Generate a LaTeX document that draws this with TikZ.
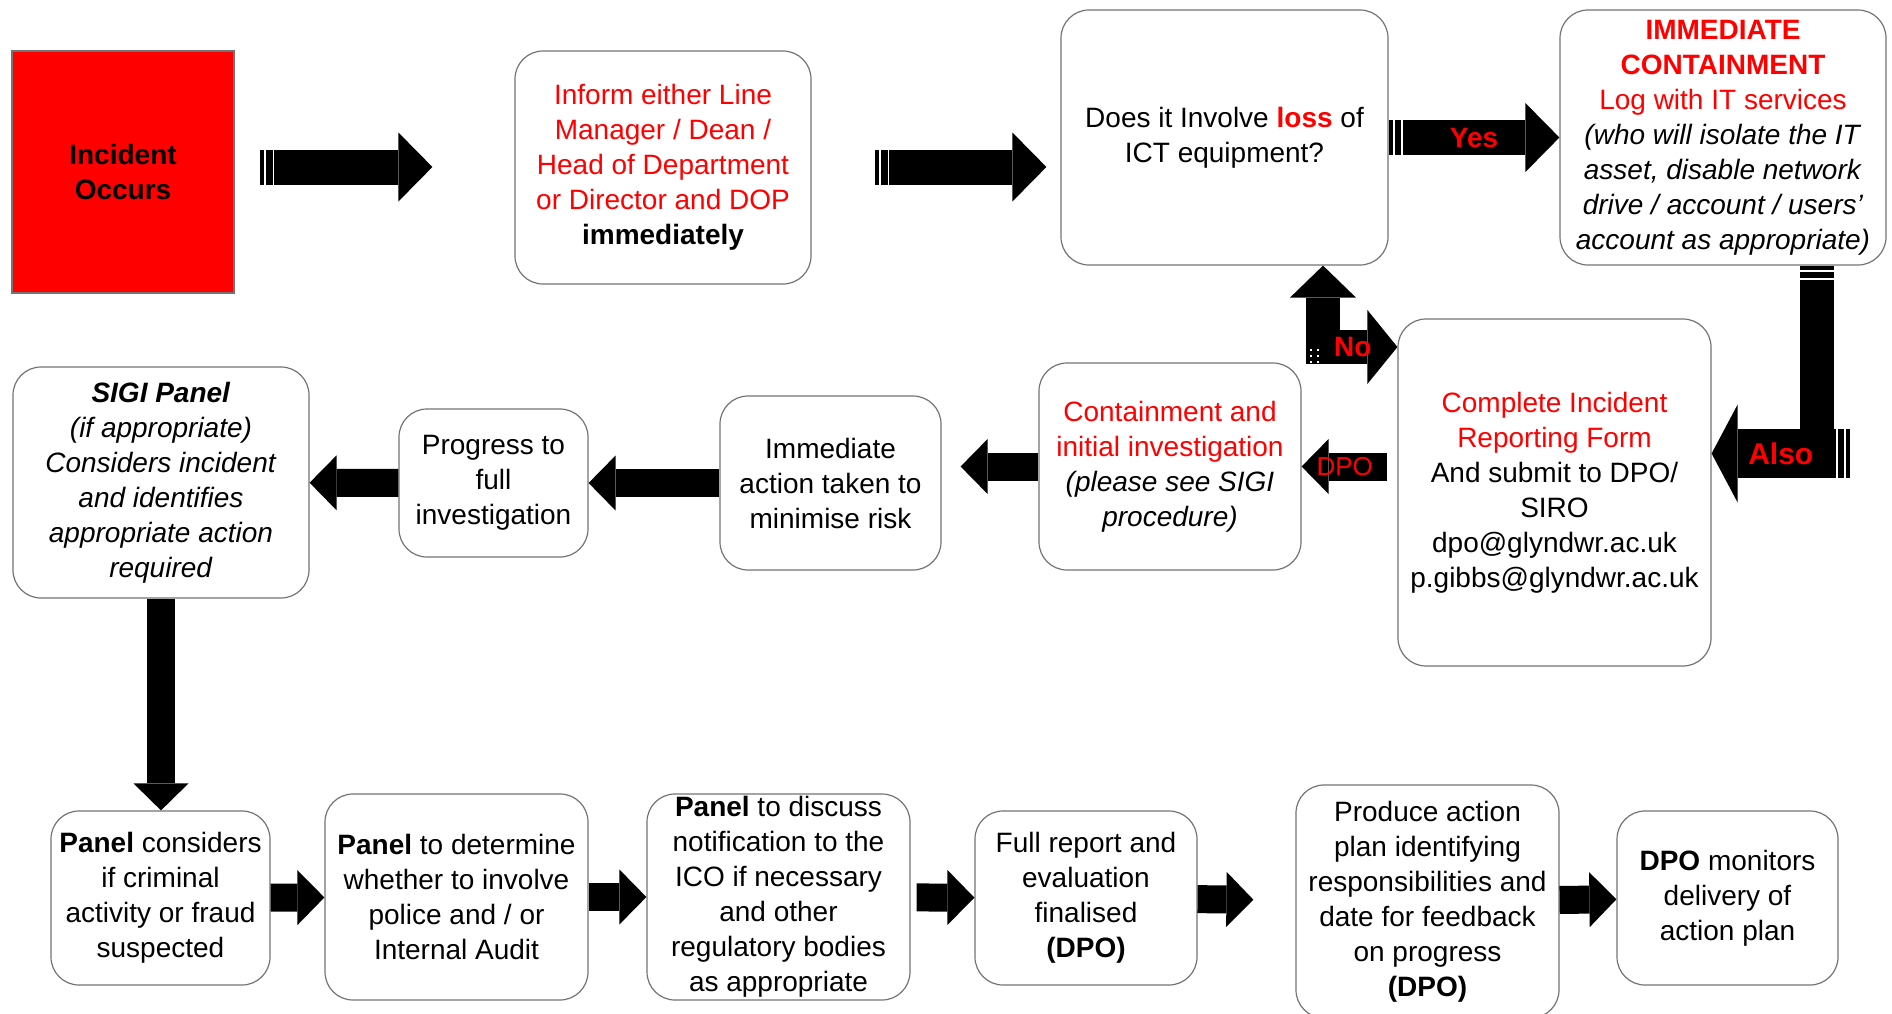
\documentclass[tikz,border=0pt]{standalone}
\usepackage{fontspec}
\setmainfont{Liberation Sans}
\usetikzlibrary{arrows.meta}
\newcommand{\rd}[1]{\textcolor{red}{#1}}
\tikzset{
	box/.style={draw=black!55, line width=0.6pt, rounded corners=14pt, align=center, inner sep=0pt, font=\fontsize{14pt}{17.5pt}\selectfont},
	blk/.style n args={3}{line width=#1, -{Triangle[width=#2, length=#3, line width=0pt]}},
	bigarrow/.style={blk={17.5pt}{34.5pt}{17pt}},
	midarrow/.style={blk={14pt}{27.5pt}{13.5pt}},
	lbl/.style={text=red, font=\fontsize{14pt}{17pt}\selectfont\bfseries},
	stripes/.pic={
		\fill[white] (4,-26) rectangle (6,26);
		\fill[white] (12.5,-26) rectangle (14.3,26);
	}
}
\begin{document}
\begin{tikzpicture}[x=0.5pt, y=-0.5pt]
			\useasboundingbox (0,0) rectangle (1892,1013);

			\node[box, sharp corners, fill=red, minimum width=111pt, minimum height=121pt, font=\fontsize{14pt}{17.5pt}\selectfont\bfseries] (inc) at (123,172) {Incident\\Occurs};
			\node[box, text=red, minimum width=148pt, minimum height=116.5pt] (inform) at (663,167.5) {Inform either Line\\Manager / Dean /\\Head of Department\\or Director and DOP\\\textcolor{black}{\textbf{immediately}}};
			\node[box, minimum width=163.5pt, minimum height=127.5pt] (loss) at (1224.5,137.5) {Does it Involve \rd{\textbf{loss}} of\\ICT equipment?};
			\node[box, minimum width=163pt, minimum height=127.5pt] (contain) at (1723,137.5) {\rd{\textbf{IMMEDIATE}}\\\rd{\textbf{CONTAINMENT}}\\\rd{Log with IT services}\\\textit{(who will isolate the IT}\\\textit{asset, disable network}\\\textit{drive / account / users'}\\\textit{account as appropriate)}};

			\node[box, minimum width=156.5pt, minimum height=173.5pt] (form) at (1554.5,492.5) {\rd{Complete Incident}\\\rd{Reporting Form}\\And submit to DPO/\\SIRO\\dpo@glyndwr.ac.uk\\p.gibbs@glyndwr.ac.uk};
			\node[box, minimum width=131pt, minimum height=103.5pt] (initinv) at (1170,466.5) {\rd{Containment and}\\\rd{initial investigation}\\\textit{(please see SIGI}\\\textit{procedure)}};
			\node[box, minimum width=110.5pt, minimum height=87pt] (action) at (830.5,483) {Immediate\\action taken to\\minimise risk};
			\node[box, minimum width=94.5pt, minimum height=74pt] (progress) at (493.5,483) {Progress to\\full\\investigation};
			\node[box, minimum width=148pt, minimum height=115.5pt] (sigi) at (161,482.5) {\textbf{\textit{SIGI Panel}}\\\textit{(if appropriate)}\\\textit{Considers incident}\\\textit{and identifies}\\\textit{appropriate action}\\\textit{required}};

			\node[box, minimum width=109.5pt, minimum height=87pt] (criminal) at (160.5,898) {\textbf{Panel} considers\\if criminal\\activity or fraud\\suspected};
			\node[box, minimum width=131.5pt, minimum height=103pt] (police) at (456.5,897) {\textbf{Panel} to determine\\whether to involve\\police and / or\\Internal Audit};
			\node[box, minimum width=131.5pt, minimum height=103pt] (ico) at (778.5,897) {\textbf{Panel} to discuss\\notification to the\\ICO if necessary\\and other\\regulatory bodies\\as appropriate};
			\node[box, minimum width=111pt, minimum height=87pt] (report) at (1086,898) {Full report and\\evaluation\\finalised\\\textbf{(DPO)}};
			\node[box, minimum width=131.5pt, minimum height=116.5pt] (plan) at (1427.5,901.5) {Produce action\\plan identifying\\responsibilities and\\date for feedback\\on progress\\\textbf{(DPO)}};
			\node[box, minimum width=110.5pt, minimum height=87pt] (monitor) at (1727.5,898) {\textbf{DPO} monitors\\delivery of\\action plan};

			\coordinate (t1) at (260,167);
			\coordinate (t2) at (875,167);
			\coordinate (alsotail) at (1850,453.5);

			\draw[bigarrow, shorten >=41pt] (t1) -- (t1 -| inform.west);
			\pic at (t1) {stripes};
			\draw[bigarrow, shorten >=7pt] (t2) -- (t2 -| loss.west);
			\pic at (t2) {stripes};
			\draw[bigarrow] (loss.east) -- (contain.west) node[midway, lbl] {Yes};
			\pic at (loss.east) {stripes};

			\draw[line width=17pt, line join=miter, {Triangle[width=33pt, length=16pt, line width=0pt]}-{Triangle[width=37pt, length=15pt, line width=0pt]}]
				([xshift=49.25pt]loss.south) |- (form.west |- 1323,347) node[pos=0.7, lbl] {No};
			\foreach \i in {1310,1317}{
				\foreach \j in {349,355,361}{
					\fill[white] (\i,\j) rectangle ++(2,2);
				}
			}

			\draw[line width=17pt] ([xshift=47pt]contain.south) -- ++(0,212);
			\pic[rotate=-90] at ([xshift=47pt]contain.south) {stripes};
			\draw[blk={24.5pt}{49pt}{13pt}] (alsotail) -- (alsotail -| form.east) node[midway, lbl, font=\fontsize{15pt}{17pt}\selectfont\bfseries] {Also};
			\pic[rotate=180] at (alsotail) {stripes};

			\draw[midarrow, shorten <=5pt] (form.west |- initinv.east) -- (initinv.east) node[pos=0.55, lbl, font=\fontsize{13pt}{15pt}\selectfont] {DPO};
			\draw[midarrow, shorten >=9.5pt] (initinv.west) -- (initinv.west -| action.east);
			\draw[midarrow] (action) -- (progress);
			\draw[midarrow] (progress) -- (sigi);
			\draw[midarrow] (sigi.south) -- (sigi.south |- criminal.north);

			\draw[midarrow] (criminal) -- (police);
			\draw[midarrow] (police) -- (ico);
			\draw[midarrow, shorten <=3pt] (ico) -- (report);
			\draw[midarrow, shorten >=21pt] (report) -- (plan);
			\draw[midarrow] (plan) -- (monitor);

		\end{tikzpicture}
\end{document}
